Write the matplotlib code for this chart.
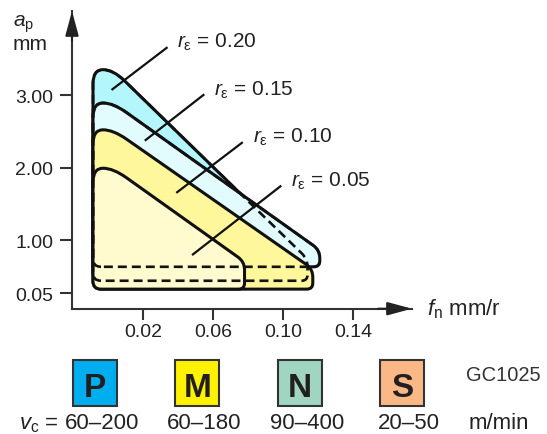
import numpy as np
import matplotlib.pyplot as plt
from matplotlib.path import Path
from matplotlib.patches import PathPatch, Rectangle

plt.rcParams['font.family'] = ['Liberation Sans', 'DejaVu Sans']
plt.rcParams['mathtext.fontset'] = 'custom'
plt.rcParams['mathtext.rm'] = 'Liberation Sans'
plt.rcParams['mathtext.it'] = 'Liberation Sans:italic'

# chip breaking areas, one per nose radius (mm)
radius_labels = ['0.20', '0.15', '0.10', '0.05']
area_left = [-0.0086, -0.0086, -0.0086, -0.0086]   # fn
area_peak = [0.0029, 0.0029, 0.0029, 0.0029]       # fn where the slope starts
area_right = [0.114, 0.121, 0.117, 0.078]          # fn
area_top = [3.35, 2.89, 2.52, 1.99]                # ap
area_tip = [0.66, 0.82, 0.48, 0.61]                # ap at the right end
area_bottom = [0.27, 0.52, 0.12, 0.12]             # ap
area_colors = ['#b3f7fc', '#e2fcfe', '#fff79c', '#fffbcf']
area_hidden = [True, True, False, False]

lead_from = [(0.002, 3.07), (0.021, 2.37), (0.039, 1.65), (0.048, 0.73)]
lead_to = [(0.034, 3.66), (0.055, 3.01), (0.077, 2.35), (0.099, 1.75)]

xticks = [0.02, 0.06, 0.10, 0.14]
yticks = [0.05, 1.00, 2.00, 3.00]

materials = ['P', 'M', 'N', 'S']
material_colors = ['#00adee', '#fff200', '#9fd5c1', '#fbb886']
vc_ranges = ['60–200', '60–180', '90–400', '20–50']
grade = 'GC1025'

ink = '#222222'
W, H = 547, 435

# ap axis is squeezed below 1.00
k = 0.77
def fwd(y):
    y = np.asarray(y, dtype=float)
    return np.where(y >= 1, y, 1 - (1 - y) * k)

def inv(f):
    f = np.asarray(f, dtype=float)
    return np.where(f >= 1, f, 1 - (1 - f) / k)

fig = plt.figure(figsize=(W / 100, H / 100), dpi=100)
ax = fig.add_axes([72 / W, (H - 309.7) / H, 340 / W, 297.7 / H])
ax.set_yscale('function', functions=(fwd, inv))
ax.set_xlim(-0.0206, 0.1737)
ax.set_ylim(float(inv(0.0524)), 4.159)

for s in ['top', 'right']:
    ax.spines[s].set_visible(False)
for s in ['left', 'bottom']:
    ax.spines[s].set_linewidth(1.5)
    ax.spines[s].set_color('#333333')

ax.set_xticks(xticks)
ax.set_xticklabels([f'{v:.2f}' for v in xticks])
ax.set_yticks(yticks)
ax.set_yticklabels([f'{v:.2f}' for v in yticks])
ax.tick_params(axis='y', direction='out', length=8.5, width=1.5, pad=5,
               labelsize=14, color='#333333', labelcolor=ink)
ax.tick_params(axis='x', direction='out', length=8, width=1.5, pad=2.5,
               labelsize=14, color='#333333', labelcolor=ink)
ax.minorticks_off()

head = dict(arrowstyle='-|>,head_length=1.0,head_width=0.27', color='#222222',
            lw=1.5, mutation_scale=15, shrinkA=0, shrinkB=0)
ax.annotate('', xy=(0, 1), xycoords='axes fraction', xytext=(0, 0.9),
            arrowprops=head, annotation_clip=False)
ax.annotate('', xy=(1, 0), xycoords='axes fraction', xytext=(0.9, 0),
            arrowprops=head, annotation_clip=False)


def rounded(xs, ys, rad, **kw):
    # round the corners in pixel space, then go back to data
    pts = ax.transData.transform(np.column_stack([xs, ys]))
    n = len(pts)
    verts, codes = [], []
    for i in range(n):
        p, v, q = pts[i - 1], pts[i], pts[(i + 1) % n]
        d1 = np.hypot(*(p - v))
        d2 = np.hypot(*(q - v))
        a = v + (p - v) / d1 * min(rad[i], d1 / 2)
        b = v + (q - v) / d2 * min(rad[i], d2 / 2)
        verts.append(a)
        codes.append(Path.MOVETO if i == 0 else Path.LINETO)
        verts += [v, b]
        codes += [Path.CURVE3, Path.CURVE3]
    verts.append(verts[0])
    codes.append(Path.CLOSEPOLY)
    data = ax.transData.inverted().transform(np.array(verts))
    return PathPatch(Path(data, codes), **kw)


corner_r = [8, 14, 16, 8, 6]
outlines = []
for i in range(len(radius_labels)):
    xs = [area_left[i], area_left[i], area_peak[i], area_right[i], area_right[i]]
    ys = [area_bottom[i], area_top[i], area_top[i], area_tip[i], area_bottom[i]]
    ax.add_patch(rounded(xs, ys, corner_r, facecolor=area_colors[i],
                         edgecolor='#111111', lw=2.2, zorder=2 + i,
                         joinstyle='round', clip_on=False))
    if area_hidden[i]:
        outlines.append((xs, ys))

for xs, ys in outlines:
    ax.add_patch(rounded(xs, ys, corner_r, fill=False, edgecolor='#111111',
                         lw=1.9, linestyle=(0, (3.4, 1.9)), zorder=7,
                         clip_on=False))

for lab, p0, p1 in zip(radius_labels, lead_from, lead_to):
    ax.plot([p0[0], p1[0]], [p0[1], p1[1]], color='#111111', lw=1.6,
            zorder=8, solid_capstyle='butt')
    ax.annotate(r'$\mathit{r}_{\mathrm{ε}}$ = ' + lab, xy=p1,
                xytext=(7, 0), textcoords='offset points', va='baseline',
                ha='left', fontsize=15, color=ink)

# axis titles
fig.text(13 / W, 1 - 27 / H, r'$\mathit{a}_{\mathrm{p}}$', fontsize=15,
         color=ink, va='baseline')
fig.text(13 / W, 1 - 50 / H, 'mm', fontsize=15, color=ink, va='baseline')
fig.text(427 / W, 1 - 315 / H, r'$\mathit{f}_{\mathrm{n}}$ mm/r', fontsize=16,
         color=ink, va='baseline')

# material groups
box_w, box_h = 44, 46
row_base = 429
for i, (m, c, vc) in enumerate(zip(materials, material_colors, vc_ranges)):
    left = 73 + 102.4 * i
    fig.add_artist(Rectangle((left / W, 1 - (360.5 + box_h) / H), box_w / W,
                             box_h / H, transform=fig.transFigure,
                             facecolor=c, edgecolor='#333333', lw=1.5))
    fig.text((left + box_w / 2) / W, 1 - 397 / H, m, fontsize=24,
             fontweight='bold', color='#231f20', ha='center', va='baseline')
    fig.text((left + box_w / 2 + 7) / W, 1 - row_base / H, vc, fontsize=16,
             color=ink, ha='center', va='baseline')

fig.text(466 / W, 1 - 381 / H, grade, fontsize=14.5, color='#333333',
         va='baseline')
fig.text(19 / W, 1 - row_base / H, r'$\mathit{v}_{\mathrm{c}}$ =', fontsize=16,
         color=ink, va='baseline')
fig.text(469 / W, 1 - row_base / H, 'm/min', fontsize=16, color=ink,
         va='baseline')

fig.savefig('out.png', dpi=100)
